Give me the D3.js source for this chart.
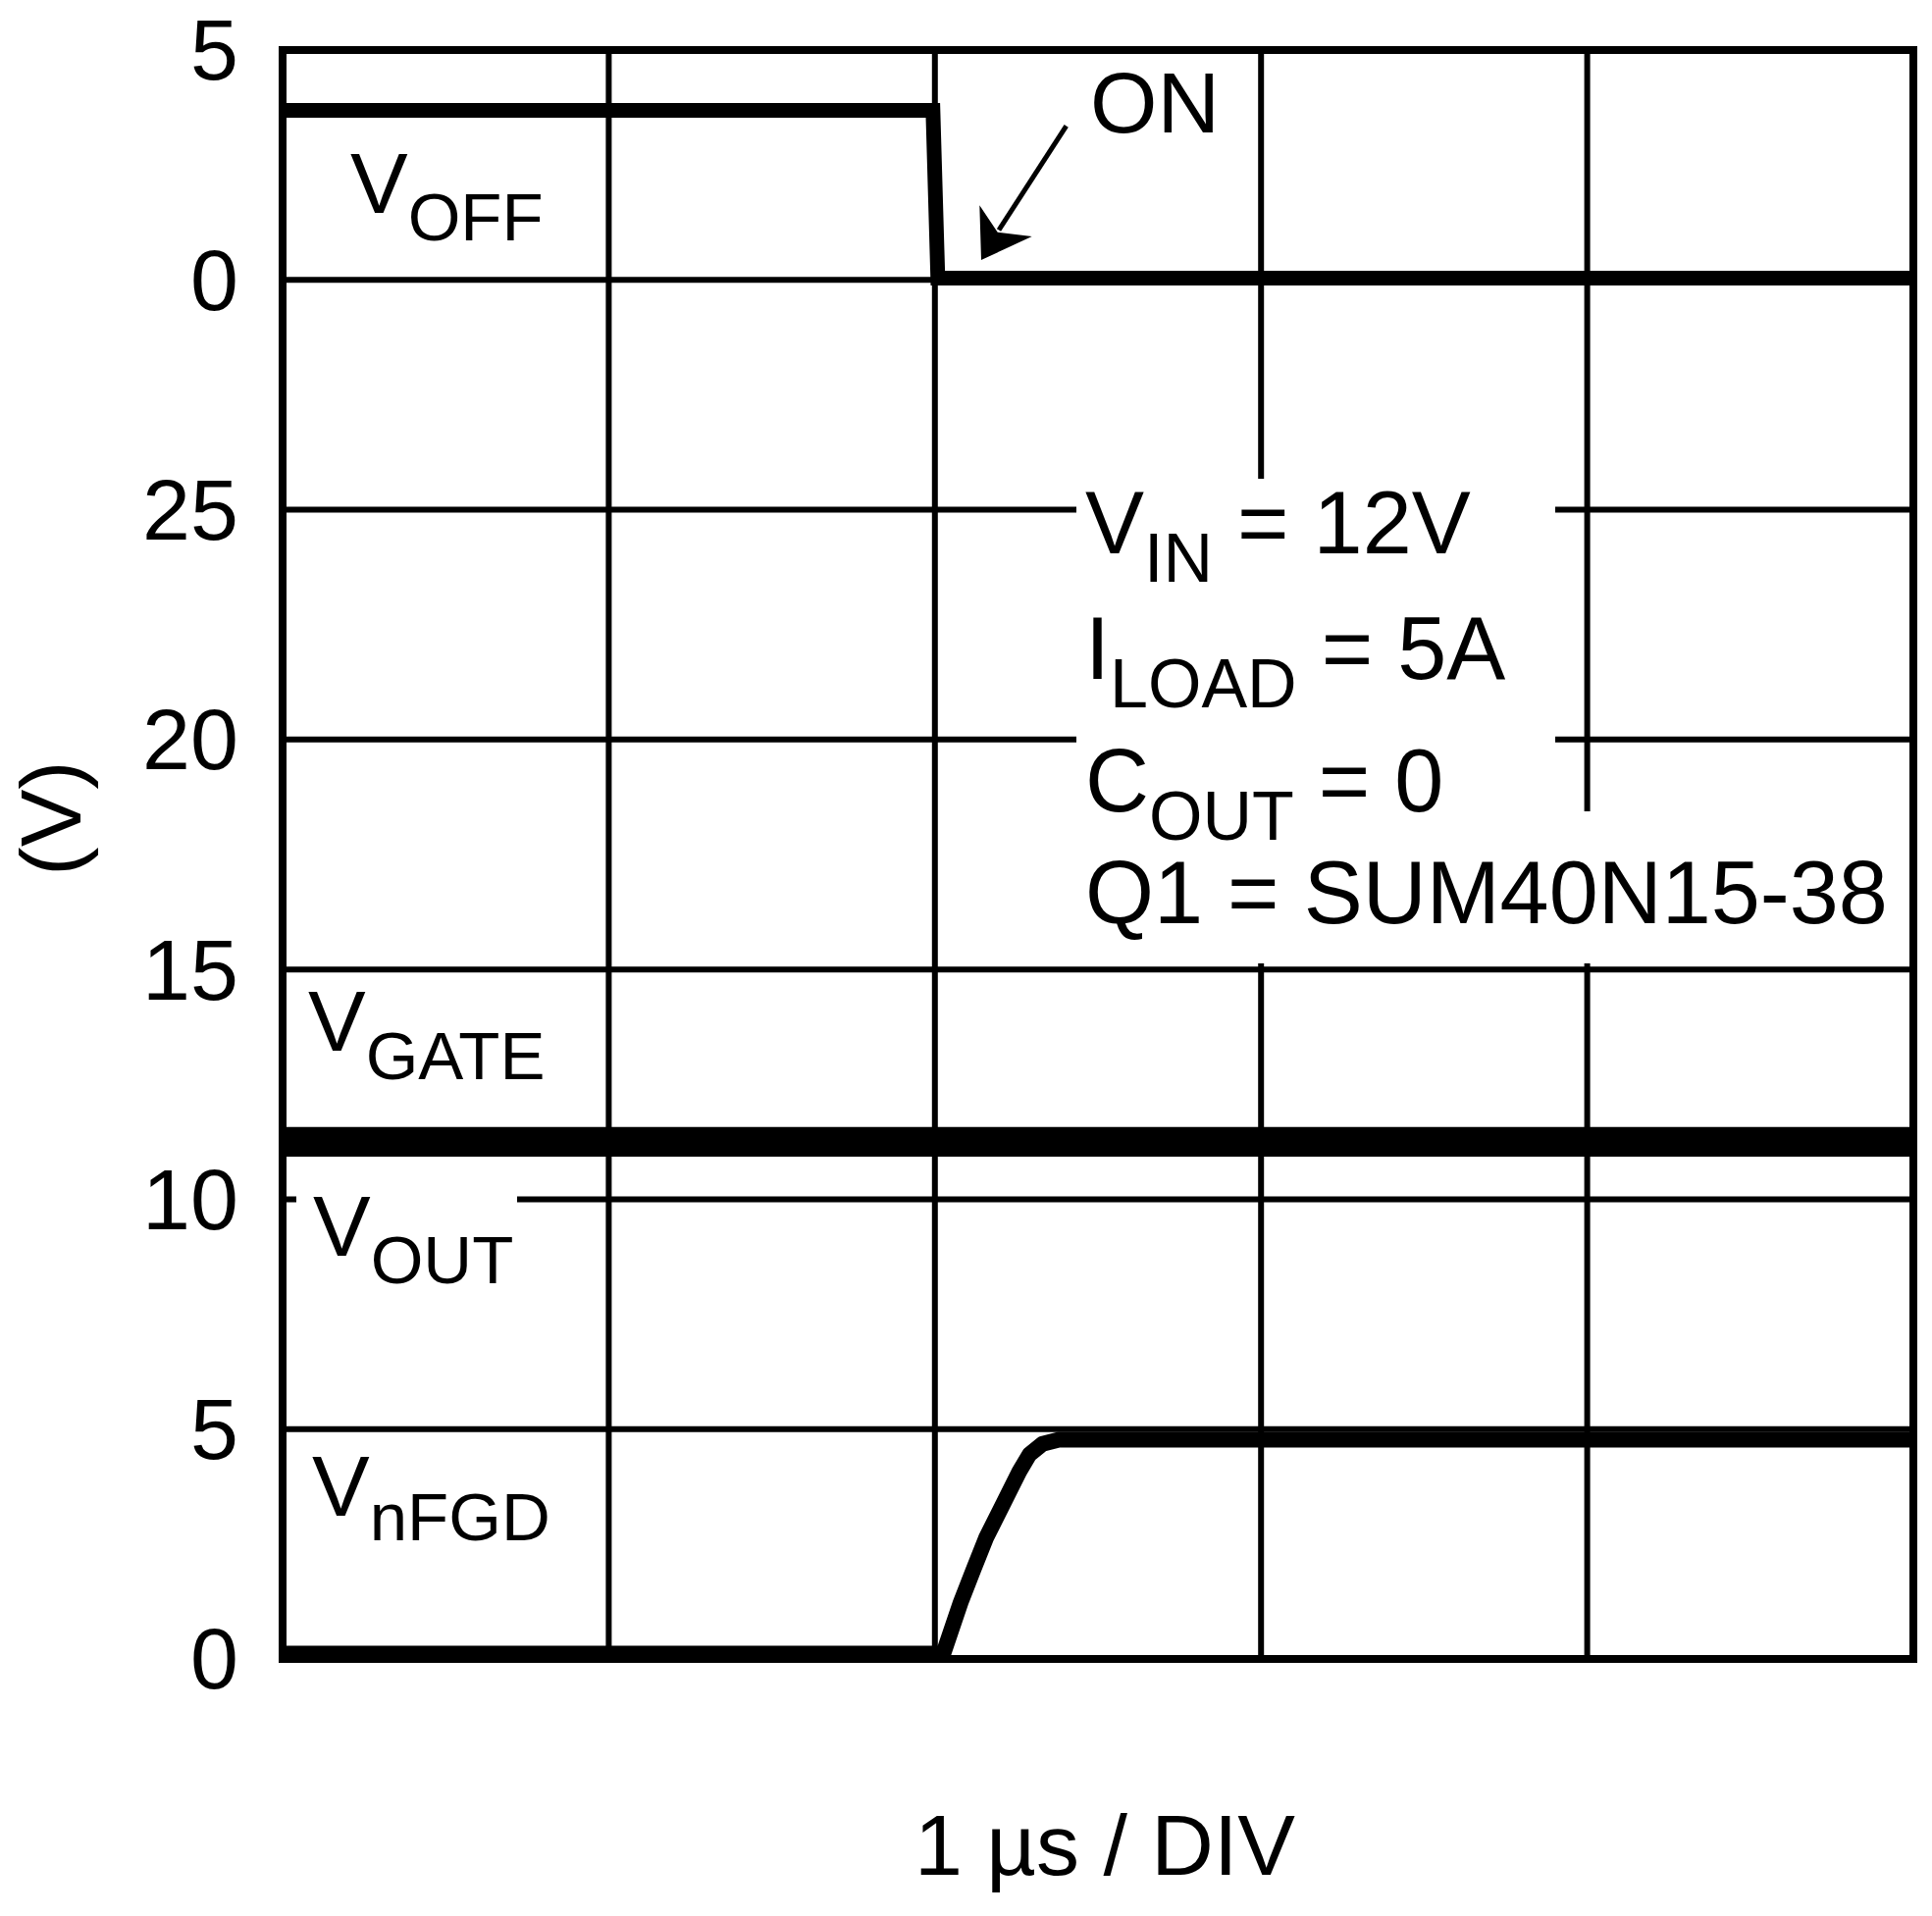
<!DOCTYPE html>
<html>
<head>
<meta charset="utf-8">
<script src="https://cdn.jsdelivr.net/npm/d3@7"></script>
<style>
  html, body { margin: 0; padding: 0; background: #fff; }
  svg { display: block; }
  text { font-family: "Liberation Sans", Arial, Helvetica, sans-serif; fill: #000; }
</style>
</head>
<body>
<script>
// ---------------- data ----------------
const timeTicks = [0, 1, 2, 3, 4, 5];            // µs (1 µs / DIV)
const topTicks = [0, 5];                          // V_OFF panel (V)
const lowTicks = [0, 5, 10, 15, 20, 25];          // lower panel (V)

const voffT = [0, 1.994, 2.009, 5];
const voffV = [3.69, 3.69, 0.04, 0.04];

const gateT = [0, 5];
const gateV = [11.4, 11.4];

const voutT = [0, 5];
const voutV = [11.1, 11.1];

const nfgdT = [0, 2.026, 2.079, 2.118, 2.158, 2.209, 2.259, 2.29, 2.33, 2.38, 5];
const nfgdV = [0.12, 0.12, 1.23, 1.94, 2.65, 3.37, 4.08, 4.45, 4.68, 4.77, 4.77];

const notes = [
  { main: "V", sub: "IN", rest: " = 12V" },
  { main: "I", sub: "LOAD", rest: " = 5A" },
  { main: "C", sub: "OUT", rest: " = 0" },
  { main: "Q1 = SUM40N15-38", sub: "", rest: "" }
];

// ---------------- layout ----------------
const W = 1969, H = 1953;
const L = 288, R = 1950, T = 51, B = 1691;
const divH = (B - T) / 7;

const x = d3.scaleLinear().domain([0, 5]).range([L, R]);
const yTop = d3.scaleLinear().domain([0, 5]).range([T + divH, T]);
const yLow = d3.scaleLinear().domain([0, 30]).range([B, T + divH]);

const svg = d3.select("body").append("svg").attr("width", W).attr("height", H);
svg.append("rect").attr("width", W).attr("height", H).attr("fill", "#fff");

// grid
const grid = svg.append("g").attr("stroke", "#000").attr("stroke-width", 6);
grid.selectAll("line.v").data(timeTicks).join("line").attr("class", "v")
  .attr("x1", d => x(d)).attr("x2", d => x(d)).attr("y1", T).attr("y2", B);
grid.selectAll("line.ht").data(topTicks).join("line").attr("class", "ht")
  .attr("x1", L).attr("x2", R).attr("y1", d => yTop(d)).attr("y2", d => yTop(d));
grid.selectAll("line.hl").data(lowTicks).join("line").attr("class", "hl")
  .attr("x1", L).attr("x2", R).attr("y1", d => yLow(d)).attr("y2", d => yLow(d));

// white backgrounds behind labels
const bg = svg.append("g").attr("fill", "#fff");
bg.append("rect").attr("x", 1097).attr("y", 488).attr("width", 488).attr("height", 494);
bg.append("rect").attr("x", 1097).attr("y", 827).attr("width", 828).attr("height", 155);
bg.append("rect").attr("x", 302).attr("y", 1192).attr("width", 225).attr("height", 128);

// traces
function trace(ts, vs, ys, w, join) {
  const pts = ts.map((t, i) => [t, vs[i]]);
  const line = d3.line().x(d => x(d[0])).y(d => ys(d[1]));
  svg.append("path").attr("d", line(pts)).attr("fill", "none")
    .attr("stroke", "#000").attr("stroke-width", w)
    .attr("stroke-linejoin", join || "round").attr("stroke-linecap", "butt");
}
trace(gateT, gateV, yLow, 16);
trace(voutT, voutV, yLow, 16);
trace(voffT, voffV, yTop, 15, "miter");
trace(nfgdT, nfgdV, yLow, 16);

// frame
svg.append("rect").attr("x", L).attr("y", T).attr("width", R - L).attr("height", B - T)
  .attr("fill", "none").attr("stroke", "#000").attr("stroke-width", 8);

// axes labels
const fs = 88, fsSub = 69, fsNote = 90, fsNoteSub = 70;
function styleAxis(g) {
  g.select(".domain").remove();
  g.selectAll("line").remove();
  g.selectAll("text").attr("font-size", fs).attr("dy", "0.34em")
    .attr("font-family", '"Liberation Sans", Arial, sans-serif').attr("fill", "#000");
}
svg.append("g").attr("transform", `translate(${L},0)`)
  .call(d3.axisLeft(yTop).tickValues(topTicks).tickSize(0).tickPadding(45).tickFormat(d3.format("d")))
  .call(styleAxis);
svg.append("g").attr("transform", `translate(${L},0)`)
  .call(d3.axisLeft(yLow).tickValues(lowTicks).tickSize(0).tickPadding(45).tickFormat(d3.format("d")))
  .call(styleAxis);

svg.append("text").attr("transform", "translate(82,834) rotate(-90)")
  .attr("text-anchor", "middle").attr("font-size", fs).text("(V)");

svg.append("text").attr("x", 1126).attr("y", 1911)
  .attr("text-anchor", "middle").attr("font-size", fs).text("1 µs / DIV");

// trace labels
function subLabel(px, py, main, sub, rest, dy, f1, f2) {
  const t = svg.append("text").attr("x", px).attr("y", py).attr("font-size", f1 || fs);
  t.append("tspan").text(main);
  if (sub) t.append("tspan").attr("font-size", f2 || fsSub).attr("dy", dy).text(sub);
  if (rest) t.append("tspan").attr("dy", -dy).text(rest);
  return t;
}
subLabel(357, 217, "V", "OFF", "", 28);
subLabel(314, 1071, "V", "GATE", "", 29);
subLabel(319, 1280, "V", "OUT", "", 28);
subLabel(318, 1545, "V", "nFGD", "", 25);

// conditions block
const noteY = [564, 692, 827, 941];
notes.forEach((n, i) => subLabel(1106, noteY[i], n.main, n.sub, n.rest, 29, fsNote, fsNoteSub));

// ON arrow
svg.append("text").attr("x", 1111).attr("y", 135).attr("font-size", fs).text("ON");
svg.append("line").attr("x1", 1086.7).attr("y1", 128.3).attr("x2", 1018).attr("y2", 234.5)
  .attr("stroke", "#000").attr("stroke-width", 5);
svg.append("path").attr("d", "M1000,265 L998.3,209.3 L1016.7,236.7 L1051.7,241 Z").attr("fill", "#000");
</script>
</body>
</html>
